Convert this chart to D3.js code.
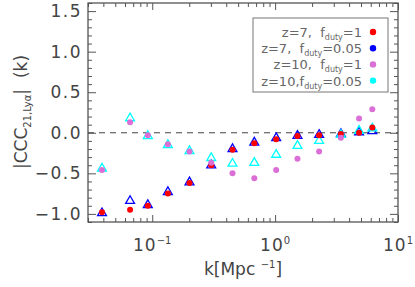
<!DOCTYPE html>
<html>
<head>
<meta charset="utf-8">
<script src="https://cdn.jsdelivr.net/npm/d3@7"></script>
<style>
  body { margin: 0; background: #fff; }
  svg { display: block; font-family: 'DejaVu Sans', sans-serif; }
  text { white-space: pre; }
</style>
</head>
<body>
<svg id="chart"></svg>
<script>
// k values (Mpc^-1)
const kValues = [0.039, 0.066, 0.092, 0.134, 0.201, 0.302, 0.45, 0.677, 1.02, 1.52, 2.28, 3.43, 4.82, 6.18];

// |CCC| for each model
const z7duty1 = [-0.98, -0.95, -0.90, -0.75, -0.62, -0.40, -0.21, -0.13, -0.08, -0.04, -0.03, -0.015, 0.0, 0.065];
const z7duty005 = [-0.99, -0.84, -0.89, -0.73, -0.61, -0.40, -0.20, -0.12, -0.065, -0.037, -0.025, -0.015, 0.005, 0.02];
const z10duty1 = [-0.46, 0.13, -0.03, -0.14, -0.23, -0.37, -0.50, -0.56, -0.46, -0.32, -0.23, -0.06, 0.175, 0.29];
const z10duty005 = [-0.44, 0.18, -0.04, -0.15, -0.225, -0.31, -0.38, -0.37, -0.27, -0.16, -0.10, -0.025, 0.025, 0.055];

const xMajor = [0.1, 1, 10];
const xMajorLabels = ['-1', '0', '1'];
const yMajor = [-1.0, -0.5, 0.0, 0.5, 1.0, 1.5];

const series = [
  { name: 'z=7,  f', sub: 'duty', rest: '=1', values: z7duty1, color: '#ff0000', mark: 'circle' },
  { name: 'z=7,  f', sub: 'duty', rest: '=0.05', values: z7duty005, color: '#0000ff', mark: 'triangle' },
  { name: 'z=10,  f', sub: 'duty', rest: '=1', values: z10duty1, color: '#da70d6', mark: 'circle' },
  { name: 'z=10,f', sub: 'duty', rest: '=0.05', values: z10duty005, color: '#00ffff', mark: 'triangle' },
];

const width = 415;
const height = 287;
const mLeft = 88, mRight = 398, mTop = 3, mBottom = 222;
const axisColor = '#555';
const textColor = '#444';

const svg = d3.select('#chart').attr('width', width).attr('height', height);

const xScale = d3.scaleLog().domain([0.03, 10]).range([mLeft, mRight]);
const yScale = d3.scaleLinear().domain([-1.1, 1.6]).range([mBottom, mTop]);

// minor ticks
const xMinor = [];
[0.01, 0.1, 1].forEach((d) => {
  for (let i = 2; i <= 9; i++) {
    const v = d * i;
    if (v >= 0.03 && v <= 10) xMinor.push(v);
  }
});
const yMinor = d3.range(-11, 17).map((i) => i / 10).filter((v) => Math.abs(Math.round(v * 2) - v * 2) > 1e-6);

const drawAxes = () => {
  const g = svg.append('g').attr('class', 'axes');
  const style = (sel) => {
    sel.select('.domain').remove();
    sel.selectAll('line').attr('stroke', axisColor).attr('stroke-width', 1);
    sel.selectAll('text').remove();
  };
  // bottom
  g.append('g').attr('transform', 'translate(0,' + mBottom + ')')
    .call(d3.axisBottom(xScale).tickValues(xMajor).tickSize(-7)).call(style);
  g.append('g').attr('transform', 'translate(0,' + mBottom + ')')
    .call(d3.axisBottom(xScale).tickValues(xMinor).tickSize(-4)).call(style);
  // top
  g.append('g').attr('transform', 'translate(0,' + mTop + ')')
    .call(d3.axisTop(xScale).tickValues(xMajor).tickSize(-7)).call(style);
  g.append('g').attr('transform', 'translate(0,' + mTop + ')')
    .call(d3.axisTop(xScale).tickValues(xMinor).tickSize(-4)).call(style);
  // left
  g.append('g').attr('transform', 'translate(' + mLeft + ',0)')
    .call(d3.axisLeft(yScale).tickValues(yMajor).tickSize(-8)).call(style);
  g.append('g').attr('transform', 'translate(' + mLeft + ',0)')
    .call(d3.axisLeft(yScale).tickValues(yMinor).tickSize(-4)).call(style);
  // right
  g.append('g').attr('transform', 'translate(' + mRight + ',0)')
    .call(d3.axisRight(yScale).tickValues(yMajor).tickSize(-8)).call(style);
  g.append('g').attr('transform', 'translate(' + mRight + ',0)')
    .call(d3.axisRight(yScale).tickValues(yMinor).tickSize(-4)).call(style);

  g.append('rect')
    .attr('x', mLeft).attr('y', mTop)
    .attr('width', mRight - mLeft).attr('height', mBottom - mTop)
    .attr('fill', 'none').attr('stroke', axisColor).attr('stroke-width', 1.3);

  // tick labels
  const yLab = svg.append('g').attr('fill', textColor).style('font-size', '17px');
  yMajor.forEach((v) => {
    yLab.append('text')
      .attr('x', mLeft - 6).attr('y', yScale(v) + 6)
      .attr('text-anchor', 'end')
      .style('letter-spacing', '1.5px')
      .text(d3.format('.1f')(v).replace('-', '\u2212'));
  });
  const xLab = svg.append('g').attr('fill', textColor).style('font-size', '17px');
  xMajor.forEach((v, i) => {
    const t = xLab.append('text')
      .attr('x', xScale(v)).attr('y', mBottom + 29)
      .attr('text-anchor', 'middle');
    t.append('tspan').style('letter-spacing', '1px').text('10');
    t.append('tspan').attr('dy', -7).style('font-size', '10px')
      .text(xMajorLabels[i].replace('-', '\u2212'));
  });

  // axis titles
  const xt = svg.append('text')
    .attr('x', 243).attr('y', 275)
    .attr('text-anchor', 'middle')
    .attr('fill', textColor).style('font-size', '17px');
  xt.append('tspan').text('k[Mpc ');
  xt.append('tspan').attr('dy', -7).style('font-size', '10px').text('\u22121');
  xt.append('tspan').attr('dy', 7).text(']');

  const yt = svg.append('text')
    .attr('transform', 'translate(27,112) rotate(-90)')
    .attr('text-anchor', 'middle')
    .attr('fill', textColor).style('font-size', '17px');
  yt.append('tspan').text('|CCC');
  yt.append('tspan').attr('dy', 4).style('font-size', '10px').text('21,Ly\u03b1');
  yt.append('tspan').attr('dy', -4).text('|  (k)');
};

const drawZeroLine = () => {
  svg.append('line')
    .attr('x1', mLeft).attr('x2', mRight)
    .attr('y1', yScale(0)).attr('y2', yScale(0))
    .attr('stroke', '#444').attr('stroke-width', 1)
    .attr('stroke-dasharray', '6,5');
};

const drawPoints = () => {
  const tri = d3.symbol().type(d3.symbolTriangle).size(34);
  const order = [series[1], series[3], series[0], series[2]];
  order.forEach((s) => {
    const g = svg.append('g');
    if (s.mark === 'triangle') {
      g.selectAll('path').data(s.values).enter().append('path')
        .attr('d', tri)
        .attr('transform', (d, i) => 'translate(' + xScale(kValues[i]) + ',' + yScale(d) + ')')
        .attr('fill', 'none').attr('stroke', s.color).attr('stroke-width', 1.3);
    } else {
      g.selectAll('circle').data(s.values).enter().append('circle')
        .attr('cx', (d, i) => xScale(kValues[i]))
        .attr('cy', (d) => yScale(d))
        .attr('r', 3)
        .attr('fill', s.color);
    }
  });
};

const drawLegend = () => {
  const lg = svg.append('g');
  lg.append('rect')
    .attr('x', 253).attr('y', 18)
    .attr('width', 135).attr('height', 74)
    .attr('fill', '#fff').attr('stroke', '#777').attr('stroke-width', 1);
  series.forEach((s, i) => {
    const y = 32 + i * 16.2;
    const t = lg.append('text')
      .attr('x', 362).attr('y', y + 5)
      .attr('text-anchor', 'end')
      .attr('fill', '#666').style('font-size', '13px');
    t.append('tspan').text(s.name);
    t.append('tspan').attr('dy', 3).style('font-size', '8px').text(s.sub);
    t.append('tspan').attr('dy', -3).text(s.rest);
    lg.append('circle')
      .attr('cx', 373).attr('cy', y)
      .attr('r', 3.2)
      .attr('fill', s.color);
  });
};

drawAxes();
drawZeroLine();
drawPoints();
drawLegend();
</script>
</body>
</html>
